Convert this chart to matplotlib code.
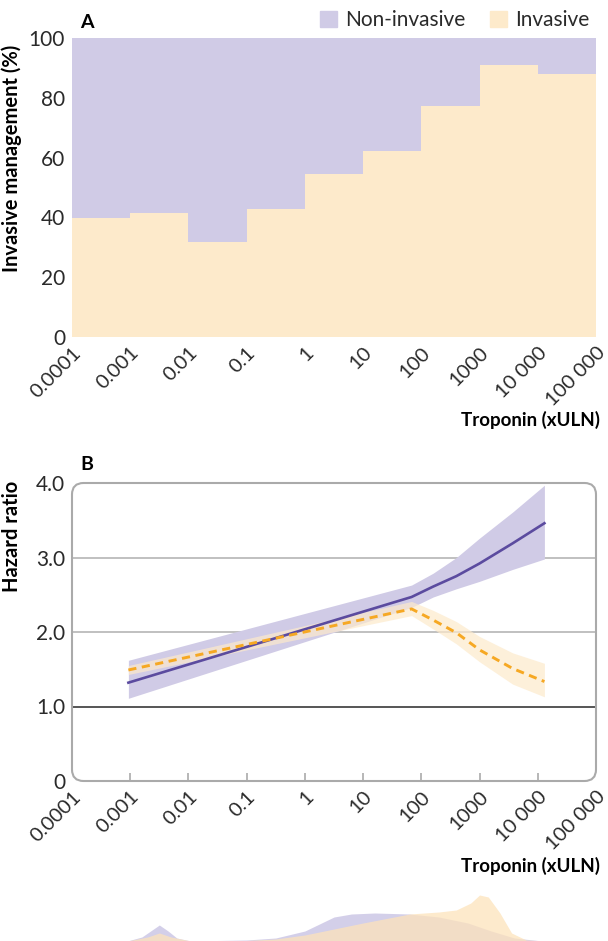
##########################################
# Invasive management vs troponin (A, B) #
##########################################
import numpy as np
import matplotlib.pyplot as plt
import matplotlib.transforms as mtransforms
from matplotlib.patches import Patch, FancyBboxPatch

plt.rcParams['font.family'] = ['Lato', 'DejaVu Sans']

# colours
lavender = '#d0cbe6'
peach = '#fdeacb'
purple = '#5b4b9f'
orange = '#f6a823'
txt = '#2a2a2a'

# x axis (troponin, xULN)
edges = [0.0001, 0.001, 0.01, 0.1, 1, 10, 100, 1000, 10000, 100000]
tick_labels = ['0.0001', '0.001', '0.01', '0.1', '1', '10', '100', '1000',
               '10 000', '100 000']

# panel A: % invasive per troponin decade
invasive_pct = [39.7, 41.4, 31.9, 42.8, 54.6, 62.2, 77.2, 90.9, 88.0]

# panel B: hazard ratio curves
hr_x = [0.00093, 68, 160, 400, 1000, 3700, 13000]
hr_noninv = [1.32, 2.47, 2.61, 2.75, 2.92, 3.19, 3.46]
hr_noninv_hi = [1.62, 2.63, 2.79, 3.00, 3.26, 3.61, 3.97]
hr_noninv_lo = [1.11, 2.33, 2.47, 2.58, 2.68, 2.84, 2.98]
hr_inv = [1.49, 2.31, 2.16, 1.99, 1.76, 1.51, 1.335]
hr_inv_hi = [1.55, 2.41, 2.29, 2.14, 1.94, 1.72, 1.58]
hr_inv_lo = [1.43, 2.22, 2.04, 1.84, 1.60, 1.30, 1.13]

# density strip at the bottom (log10 troponin, relative height)
dens_x_noninv = [-3.05, -2.8, -2.6, -2.5, -2.35, -2.2, -2.0, -1.5, -1.0, -0.5,
                 0.0, 0.5, 0.8, 1.2, 1.8, 2.3, 2.8, 3.2, 3.6, 4.0, 4.15]
dens_noninv = [0, 4, 12, 16, 10, 3, 0.5, 0.5, 1, 3,
               10, 24, 27, 28, 27, 24, 18, 10, 3, 0.5, 0]
dens_x_inv = [-3.05, -2.7, -2.5, -2.3, -2.0, -1.0, -0.5, 0.0, 0.5, 1.0,
              1.8, 2.3, 2.6, 2.85, 3.0, 3.15, 3.35, 3.55, 3.8, 4.15]
dens_inv = [0, 4, 8, 4, 0.5, 0.5, 2, 6, 12, 18,
            27, 29, 31, 38, 46, 44, 28, 8, 1, 0]

W, H = 608, 941
fig = plt.figure(figsize=(W / 100, H / 100), dpi=100)

L, R = 72, 596


def rect(top, bottom):
    return [L / W, 1 - bottom / H, (R - L) / W, (bottom - top) / H]


def style_xaxis(ax):
    ax.set_xscale('log')
    ax.set_xlim(edges[0], edges[-1])
    ax.set_xticks(edges)
    ax.set_xticklabels(tick_labels, rotation=45, ha='right', va='top',
                       rotation_mode='anchor', fontsize=14.5, color=txt)
    ax.minorticks_off()
    labs = ax.get_xticklabels()
    for i, lab in enumerate(labs):
        dx = 6 if i < len(labs) - 1 else 3
        shift = mtransforms.ScaledTranslation(dx / 100, 0, fig.dpi_scale_trans)
        lab.set_transform(lab.get_transform() + shift)


###########
# Panel A #
###########
axA = fig.add_axes(rect(38, 337))
axA.stairs(invasive_pct, edges, baseline=0, fill=True, color=peach, lw=0)
axA.stairs([100] * len(invasive_pct), edges, baseline=invasive_pct,
           fill=True, color=lavender, lw=0)
style_xaxis(axA)
axA.set_ylim(0, 100)
axA.set_yticks(range(0, 101, 20))
axA.tick_params(axis='y', length=0, labelsize=15, pad=5, labelcolor=txt)
axA.tick_params(axis='x', length=0, pad=5)
for s in axA.spines.values():
    s.set_visible(False)

fig.text(80 / W, 1 - 22 / H, 'A', fontsize=14, fontweight='bold',
         va='center', ha='left')
fig.text(12 / W, 1 - 158 / H, 'Invasive management (%)', rotation=90,
         fontsize=14.5, fontweight='bold', ha='center', va='center')
fig.text(600 / W, 1 - 420 / H, 'Troponin (xULN)', fontsize=13.5,
         fontweight='bold', ha='right', va='center')

fig.legend(handles=[Patch(color=lavender, label='Non-invasive'),
                    Patch(color=peach, label='Invasive')],
           loc='upper right', bbox_to_anchor=(600 / W, 1.0), ncol=2,
           frameon=False, fontsize=15, handlelength=0.8, handleheight=0.8,
           handletextpad=0.4, columnspacing=1.2, borderaxespad=0.1,
           labelcolor=txt)

###########
# Panel B #
###########
axB = fig.add_axes(rect(483, 781))
axB.fill_between(hr_x, hr_noninv_lo, hr_noninv_hi, color=lavender, lw=0)
axB.fill_between(hr_x, hr_inv_lo, hr_inv_hi, color=peach, alpha=0.7, lw=0)
axB.plot(hr_x, hr_noninv, color=purple, lw=1.9)
axB.plot(hr_x, hr_inv, color=orange, lw=2.1, dashes=(2.8, 1.9))
for yv in [2, 3]:
    axB.axhline(yv, color='#b5b5b5', lw=1.2, zorder=0)
axB.axhline(1, color='#555555', lw=1.4, zorder=0)
style_xaxis(axB)
axB.set_ylim(0, 4)
axB.set_yticks([0, 1, 2, 3, 4])
axB.set_yticklabels(['0', '1.0', '2.0', '3.0', '4.0'])
axB.tick_params(axis='y', length=0, labelsize=15, pad=5, labelcolor=txt)
axB.tick_params(axis='x', direction='in', length=6, width=1.2,
                color='#aaaaaa', pad=5)
for s in axB.spines.values():
    s.set_visible(False)
# rounded frame
r = 0.022
frame = FancyBboxPatch((0, 0), 1, 1, boxstyle='round,pad=0,rounding_size=%g' % r,
                       transform=axB.transAxes, fill=False, ec='#aaaaaa',
                       lw=1.5, clip_on=False, zorder=3,
                       mutation_aspect=(R - L) / (781 - 483))
axB.add_patch(frame)
# hide the tick marks that sit on the frame corners
axB.xaxis.get_major_ticks()[0].tick1line.set_visible(False)
axB.xaxis.get_major_ticks()[-1].tick1line.set_visible(False)

fig.text(80 / W, 1 - 464 / H, 'B', fontsize=14, fontweight='bold',
         va='center', ha='left')
fig.text(12 / W, 1 - 536 / H, 'Hazard ratio', rotation=90,
         fontsize=14.5, fontweight='bold', ha='center', va='center')
fig.text(600 / W, 1 - 866 / H, 'Troponin (xULN)', fontsize=13.5,
         fontweight='bold', ha='right', va='center')

#################
# Density strip #
#################
axD = fig.add_axes([L / W, 0, (R - L) / W, 61 / H])
axD.fill_between(dens_x_noninv, 0, dens_noninv, color='#c9c3e4', alpha=0.8, lw=0)
axD.fill_between(dens_x_inv, 0, dens_inv, color='#fde3bb', alpha=0.75, lw=0)
axD.set_xlim(-4, 5)
axD.set_ylim(0, 61)
axD.axis('off')

fig.savefig('out.png', dpi=100)
